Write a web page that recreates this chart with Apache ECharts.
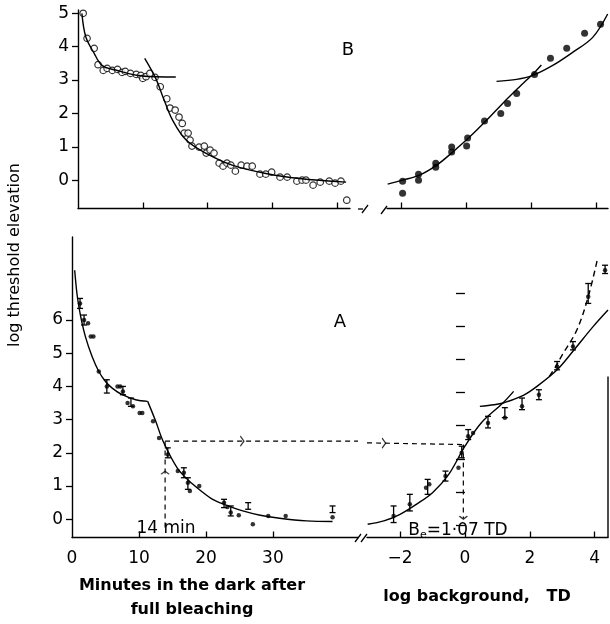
<!DOCTYPE html>
<html>
<head>
<meta charset="utf-8">
<script src="https://cdn.jsdelivr.net/npm/echarts@6/dist/echarts.min.js"></script>
<style>
  html, body { margin: 0; padding: 0; background: #fff; }
  #chart { width: 610px; height: 624px; }
</style>
</head>
<body>
<div id="chart"></div>
<script>
// ---- panel B, left: dark adaptation after bleaching (open circles)
const bLeftPts = [[0.8,5.0],[1.4,4.25],[2.5,3.95],[3.1,3.46],[3.9,3.29],[4.5,3.35],[5.3,3.29],[6.1,3.32],
  [6.8,3.23],[7.3,3.26],[8.1,3.2],[9.0,3.17],[9.7,3.14],[10.0,3.05],[10.5,3.1],[11.1,3.2],[11.9,3.08],
  [12.7,2.8],[13.7,2.44],[14.2,2.16],[15.0,2.1],[15.6,1.89],[16.1,1.7],[16.4,1.41],[17.0,1.41],[17.3,1.2],
  [17.6,1.02],[18.7,0.99],[19.5,1.02],[19.8,0.81],[20.4,0.9],[21.0,0.81],[21.8,0.51],[22.4,0.42],[23.0,0.51],
  [23.6,0.45],[24.3,0.27],[25.2,0.45],[26.1,0.42],[26.9,0.42],[28.1,0.18],[29.0,0.18],[29.9,0.24],[31.2,0.09],
  [32.3,0.09],[33.8,-0.03],[34.6,0],[35.2,0],[36.3,-0.15],[37.4,-0.06],[38.8,-0.03],[39.7,-0.09],[40.6,-0.03],
  [41.5,-0.6]];
const bLeftCone = [[0.6,5.0],[1.2,4.3],[2.5,3.8],[3.7,3.44],[5.8,3.3],[9.9,3.12],[15.1,3.09]];
const bLeftRod = [[10.3,3.65],[12,3.05],[13.3,2.4],[14.6,1.8],[16.7,1.2],[19.8,0.8],[23.8,0.45],[29,0.2],
  [34.2,0.05],[41.4,-0.06]];

// ---- panel B, right: increment threshold vs background (filled dots)
const bRightPts = [[-1.97,-0.03],[-1.97,-0.39],[-1.48,0.18],[-1.48,0],[-0.95,0.51],[-0.95,0.39],[-0.46,0.99],
  [-0.46,0.84],[0.03,1.26],[0,1.02],[0.55,1.77],[1.05,2.0],[1.26,2.3],[1.54,2.6],[2.09,3.17],[2.58,3.65],
  [3.08,3.95],[3.63,4.4],[4.12,4.67]];
const bRightRod = [[-2.43,-0.12],[-1.97,0],[-1.45,0.15],[-0.92,0.45],[-0.43,0.84],[0.09,1.29],[0.62,1.8],
  [1.11,2.3],[1.63,2.8],[2.09,3.23],[2.3,3.45]];
const bRightCone = [[0.92,2.96],[1.54,3.02],[2.03,3.14],[2.65,3.44],[3.26,3.83],[3.88,4.28],[4.34,4.98]];

// ---- panel A, left: dark adaptation (dots with error bars)
const aLeftPts = [[1.2,6.5],[1.8,6.0],[2.4,5.9],[2.8,5.5],[3.2,5.5],[4.0,4.45],[5.2,4.0],[6.8,4.0],[7.2,4.0],
  [7.6,3.85],[8.3,3.5],[9.1,3.4],[10.1,3.2],[10.5,3.2],[12.1,2.95],[13.0,2.45],[14.3,1.95],[15.8,1.45],
  [16.7,1.4],[17.3,1.1],[17.6,0.85],[19.0,1.0],[22.7,0.5],[23.2,0.37],[23.7,0.2],[24.9,0.12],[27.0,-0.15],
  [29.3,0.1],[31.9,0.1],[38.9,0.06]];
const aLeftBars = [[1.2,6.35,6.65],[1.8,5.85,6.15],[5.2,3.8,4.2],[7.6,3.75,4.0],[8.8,3.4,3.65],[14.3,1.85,2.15],
  [16.7,1.25,1.55],[17.3,0.9,1.25],[22.7,0.35,0.6],[23.7,0.1,0.4],[26.3,0.3,0.5],[38.9,0.2,0.4]];
const aLeftCone = [[0.4,7.5],[0.8,6.7],[1.3,6.1],[2,5.5],[3,4.9],[4,4.45],[5,4.15],[6,3.95],[7.5,3.75],
  [9.5,3.6],[11.3,3.55]];
const aLeftRod = [[11.3,3.55],[12.5,2.95],[13.6,2.35],[15.7,1.55],[17.5,1.15],[19.1,0.88],[21,0.6],
  [23.1,0.42],[25.5,0.25],[28.1,0.12],[31,0.03],[35,-0.05],[38.9,-0.07]];

// ---- panel A, right: increment threshold (dots with error bars)
const aRightPts = [[-2.2,0.1],[-1.7,0.45],[-1.2,0.95],[-1.1,1.05],[-0.6,1.3],[-0.2,1.55],[-0.1,2.0],
  [0.1,2.5],[0.25,2.6],[0.71,2.9],[1.23,3.06],[1.76,3.4],[2.28,3.75],[2.84,4.6],[3.33,5.2],[3.8,6.7],[4.32,7.5]];
const aRightBars = [[-2.2,-0.1,0.4],[-1.7,0.25,0.75],[-1.15,0.75,1.2],[-0.6,1.15,1.45],[-0.1,1.85,2.2],
  [0.1,2.4,2.7],[0.71,2.75,3.1],[1.23,3.06,3.36],[1.76,3.3,3.65],[2.28,3.6,3.9],[2.84,4.5,4.75],
  [3.33,5.1,5.35],[3.8,6.5,7.1],[4.32,7.4,7.65]];
const aRightRod = [[-3.0,-0.15],[-2.5,-0.05],[-2,0.15],[-1.5,0.45],[-1.0,0.8],[-0.5,1.35],[0,2.2],
  [0.5,2.9],[1.17,3.5],[1.5,3.85]];
const aRightCone = [[0.46,3.4],[0.9,3.45],[1.17,3.5],[1.8,3.73],[2.3,4.06],[2.84,4.5],[3.33,5.06],
  [3.95,5.8],[4.41,6.3]];
const aRightDashed = [[2.6,4.3],[2.8,4.6],[3.0,4.95],[3.45,5.7],[3.8,6.7],[4.1,7.9]];

// dashed guide: 14 min -> Be = 1.07 TD
const aLeftGuideH = [[13.9,2.35],[42.7,2.35]];
const aLeftGuideV = [[13.9,-0.25],[13.9,2.35]];
const aRightGuideH = [[-3.02,2.3],[-0.05,2.25]];
const aRightGuideV = [[-0.05,2.25],[-0.05,0.02]];
const arrowsRight = { left: [[25.4,2.35]], right: [[-2.5,2.29]] };
const arrowUp = [[13.9,1.4]];
const arrowDown = [[-0.05,0.05]];

// ticks
const bLeftYTicks = [0,1,2,3,4,5];
const aLeftYTicks = [0,1,2,3,4,5,6];
const minuteTicks = [10,20,30,40];
const minuteLabels = [0,10,20,30];
const logTicks = [-2,0,2,4];
const aRightEdgeTicks = [-0.18,0.82,1.82,2.82,3.82,4.82,5.82,6.82];
const aRightEdgeSpan = [-0.55,4.3];

const chart = echarts.init(document.getElementById('chart'));
const FONT = 'DejaVu Sans';
const ink = '#000';

function curve(data, xi, yi, dashed) {
  return {
    type: 'line', data, xAxisIndex: xi, yAxisIndex: yi, smooth: 0.35, symbol: 'none',
    lineStyle: { color: ink, width: 1.4, type: dashed ? [6, 4] : 'solid' }, silent: true
  };
}
function guide(data, xi, yi) {
  return {
    type: 'line', data, xAxisIndex: xi, yAxisIndex: yi, symbol: 'none',
    lineStyle: { color: ink, width: 1.2, type: [5, 4] }, silent: true
  };
}
function dots(data, xi, yi, size, hollow) {
  return {
    type: 'scatter', data, xAxisIndex: xi, yAxisIndex: yi, symbol: 'circle', symbolSize: size,
    itemStyle: hollow ? { color: '#fff', borderColor: ink, borderWidth: 1.2 } : { color: ink }, silent: true
  };
}
function errBars(data, xi, yi) {
  return {
    type: 'custom', data, xAxisIndex: xi, yAxisIndex: yi, silent: true, clip: false,
    renderItem(params, api) {
      const x = api.value(0);
      const lo = api.coord([x, api.value(1)]);
      const hi = api.coord([x, api.value(2)]);
      const st = { stroke: ink, lineWidth: 1.3 };
      const w = 3;
      return {
        type: 'group', children: [
          { type: 'line', shape: { x1: lo[0], y1: lo[1], x2: hi[0], y2: hi[1] }, style: st },
          { type: 'line', shape: { x1: lo[0] - w, y1: lo[1], x2: lo[0] + w, y2: lo[1] }, style: st },
          { type: 'line', shape: { x1: hi[0] - w, y1: hi[1], x2: hi[0] + w, y2: hi[1] }, style: st }
        ]
      };
    }
  };
}
function arrows(data, xi, yi, path, size) {
  return {
    type: 'scatter', data, xAxisIndex: xi, yAxisIndex: yi, symbol: path, symbolSize: size,
    symbolKeepAspect: true, itemStyle: { color: 'none', borderColor: ink, borderWidth: 1.3 }, silent: true
  };
}

const axisLineStyle = { show: true, onZero: false, lineStyle: { color: ink, width: 1.4 } };
const labelStyle = { color: ink, fontFamily: FONT, fontSize: 17, formatter: v => String(v).replace('-', '\u2212') };

function xAxis(grid, min, max, ticks, labels) {
  return {
    type: 'value', gridIndex: grid, min, max, splitLine: { show: false },
    axisLine: axisLineStyle,
    axisTick: { show: true, inside: true, length: 6, customValues: ticks, lineStyle: { color: ink, width: 1.3 } },
    axisLabel: labels ? Object.assign({ customValues: labels, margin: 13 }, labelStyle) : { show: false }
  };
}
function yAxis(grid, min, max, ticks, show) {
  return {
    type: 'value', gridIndex: grid, min, max, show, splitLine: { show: false },
    axisLine: axisLineStyle,
    axisTick: { show: true, inside: false, length: 6, customValues: ticks, lineStyle: { color: ink, width: 1.3 } },
    axisLabel: Object.assign({ customValues: ticks, margin: 9 }, labelStyle)
  };
}

const option = {
  backgroundColor: '#fff',
  animation: false,
  grid: [
    { left: 78, top: 10, width: 272, height: 198.5 },
    { left: 387, top: 10, width: 221, height: 198.5 },
    { left: 72, top: 237, width: 286, height: 300.5 },
    { left: 367, top: 237, width: 241, height: 300.5 }
  ],
  xAxis: [
    xAxis(0, 0, 42, minuteTicks, null),
    xAxis(1, -2.45, 4.35, logTicks, null),
    xAxis(2, 0, 42.7, minuteTicks.slice(0, 3), minuteLabels),
    xAxis(3, -3.02, 4.41, logTicks, logTicks)
  ],
  yAxis: [
    yAxis(0, -0.85, 5.1, bLeftYTicks, true),
    yAxis(1, -0.85, 5.1, [], false),
    yAxis(2, -0.55, 8.5, aLeftYTicks, true),
    yAxis(3, -0.55, 8.5, [], false),
    {
      type: 'value', gridIndex: 3, min: -0.55, max: 8.5, position: 'right', splitLine: { show: false },
      axisLine: { show: false },
      axisTick: { show: true, inside: true, length: 9, customValues: aRightEdgeTicks, lineStyle: { color: ink, width: 1.3 } },
      axisLabel: { show: false }
    }
  ],
  series: [
    // B left
    curve(bLeftCone, 0, 0), curve(bLeftRod, 0, 0), dots(bLeftPts, 0, 0, 6.5, true),
    // B right
    curve(bRightRod, 1, 1), curve(bRightCone, 1, 1), dots(bRightPts, 1, 1, 7, false),
    // A left
    curve(aLeftCone, 2, 2), curve(aLeftRod, 2, 2), errBars(aLeftBars, 2, 2), dots(aLeftPts, 2, 2, 4.5, false),
    guide(aLeftGuideH, 2, 2), guide(aLeftGuideV, 2, 2),
    arrows(arrowsRight.left, 2, 2, 'path://M0,0L6,5L0,10', [6, 10]),
    arrows(arrowUp, 2, 2, 'path://M0,6L5,0L10,6', [8, 5]),
    // A right
    curve(aRightRod, 3, 3), curve(aRightCone, 3, 3), curve(aRightDashed, 3, 3, true),
    errBars(aRightBars, 3, 3), dots(aRightPts, 3, 3, 4.5, false),
    guide(aRightGuideH, 3, 3), guide(aRightGuideV, 3, 3),
    arrows(arrowsRight.right, 3, 3, 'path://M0,0L6,5L0,10', [6, 10]),
    arrows(arrowDown, 3, 3, 'path://M0,0L5,6L10,0', [8, 5]),
    {
      type: 'line', xAxisIndex: 3, yAxisIndex: 4, symbol: 'none', silent: true,
      data: aRightEdgeSpan.map(v => [4.41, v]), lineStyle: { color: ink, width: 1.4 }
    }
  ],
  graphic: [
    { type: 'text', x: 15, y: 255, rotation: Math.PI / 2,
      style: { text: 'log threshold elevation', font: '16px "DejaVu Sans"', fill: ink, align: 'center', verticalAlign: 'middle' } },
    { type: 'text', x: 348, y: 50,
      style: { text: 'B', font: '18px "DejaVu Sans"', fill: ink, align: 'center', verticalAlign: 'middle' } },
    { type: 'text', x: 340, y: 322,
      style: { text: 'A', font: '18px "DejaVu Sans"', fill: ink, align: 'center', verticalAlign: 'middle' } },
    { type: 'text', x: 166, y: 529,
      style: { text: '14 min', font: '17px "DejaVu Sans"', fill: ink, align: 'center', verticalAlign: 'middle' } },
    { type: 'text', x: 458, y: 531,
      style: {
        text: '{a|B}{s|e}{a|=1·07 TD}', fill: ink, align: 'center', verticalAlign: 'middle', backgroundColor: '#fff',
        rich: {
          a: { fontFamily: FONT, fontSize: 17, fill: ink },
          s: { fontFamily: FONT, fontSize: 11, fill: ink, padding: [8, 0, 0, 0] }
        }
      } },
    { type: 'text', x: 192, y: 598,
      style: { text: 'Minutes in the dark after\nfull bleaching', font: 'bold 16px "DejaVu Sans"', lineHeight: 24,
        fill: ink, align: 'center', verticalAlign: 'middle' } },
    { type: 'text', x: 477, y: 597,
      style: { text: 'log background,   TD', font: 'bold 16px "DejaVu Sans"', fill: ink, align: 'center', verticalAlign: 'middle' } },
    // axis break marks
    { type: 'line', shape: { x1: 355, y1: 542, x2: 361, y2: 534 }, style: { stroke: ink, lineWidth: 1.3 } },
    { type: 'line', shape: { x1: 361, y1: 542, x2: 367, y2: 534 }, style: { stroke: ink, lineWidth: 1.3 } },
    { type: 'line', shape: { x1: 358, y1: 209, x2: 363, y2: 209 }, style: { stroke: ink, lineWidth: 1.3 } },
    { type: 'line', shape: { x1: 362, y1: 213, x2: 368, y2: 205 }, style: { stroke: ink, lineWidth: 1.3 } },
    { type: 'line', shape: { x1: 381, y1: 214, x2: 387, y2: 206 }, style: { stroke: ink, lineWidth: 1.3 } }
  ]
};
chart.setOption(option);
</script>
</body>
</html>
